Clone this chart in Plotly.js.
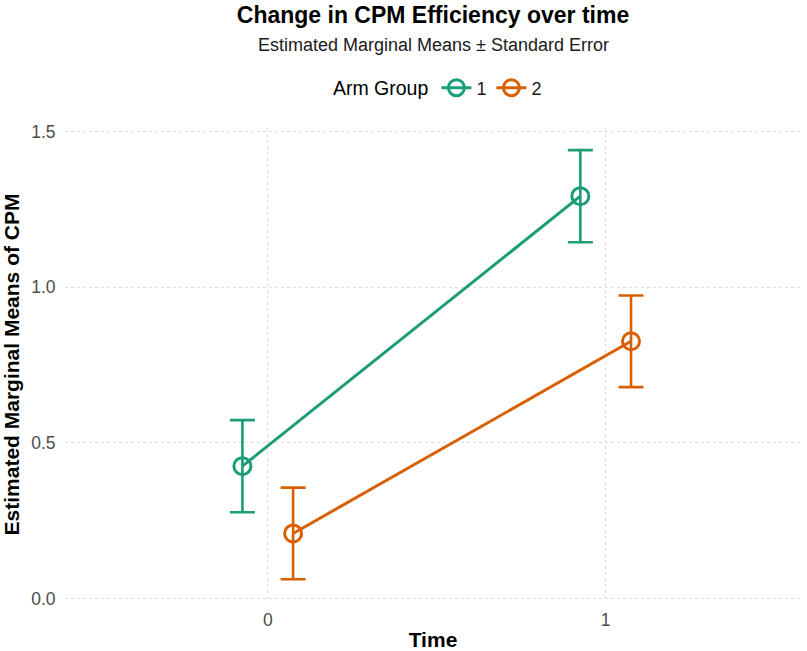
<!DOCTYPE html>
<html>
<head>
<meta charset="utf-8">
<script src="https://cdn.plot.ly/plotly-3.0.1.min.js"></script>
<style>html,body{margin:0;padding:0;background:#fff}#chart{width:807px;height:651px}</style>
</head>
<body>
<div id="chart"></div>
<script>
// Data
const times = [0, 1];
const timeLabels = ['0', '1'];
const groupNames = ['1', '2'];
const means1 = [0.425, 1.292];
const se1 = [0.148, 0.148];
const means2 = [0.209, 0.826];
const se2 = [0.147, 0.147];
const yTicks = [0, 0.5, 1, 1.5];

const colors = ['#1B9E77', '#D95F02'];
const dodge = 0.075;
const FONT = '"Liberation Sans", Arial, Helvetica, sans-serif';

function makeTrace(name, means, se, color, offset) {
  return {
    type: 'scatter',
    mode: 'lines+markers',
    name: name,
    x: times.map(t => t + offset),
    y: means,
    line: {color: color, width: 3},
    marker: {symbol: 'circle-open', size: 17, color: color, line: {width: 3, color: color}},
    error_y: {type: 'data', array: se, visible: true, color: color, thickness: 2.6, width: 12.5},
    cliponaxis: false
  };
}

const data = [
  makeTrace(groupNames[0], means1, se1, colors[0], -dodge),
  makeTrace(groupNames[1], means2, se2, colors[1], dodge)
];

const layout = {
  width: 807, height: 651,
  margin: {l: 65, r: 6, t: 128, b: 50},
  paper_bgcolor: '#fff', plot_bgcolor: '#fff',
  font: {family: FONT, color: '#000'},
  title: {
    text: '<b>Change in CPM Efficiency over time</b>',
    font: {size: 23, color: '#000', family: FONT},
    x: 0.5, xref: 'paper', xanchor: 'center',
    y: 1, yref: 'container', yanchor: 'top', pad: {t: 7}
  },
  annotations: [{
    text: 'Estimated Marginal Means ± Standard Error',
    xref: 'paper', yref: 'paper', x: 0.5, xanchor: 'center',
    y: 1 + (128 - 45) / 473, yanchor: 'middle',
    showarrow: false, font: {size: 18, color: '#1a1a1a', family: FONT}
  }],
  showlegend: true,
  legend: {
    orientation: 'h', x: 0.508, xanchor: 'center', y: 1.0846, yanchor: 'middle',
    title: {text: 'Arm Group', side: 'left', font: {size: 19.5, color: '#000'}},
    font: {size: 18, color: '#1a1a1a'},
    itemwidth: 30
  },
  xaxis: {
    range: [-0.6, 1.578],
    tickvals: times, ticktext: timeLabels,
    ticks: 'outside', ticklen: 3, tickcolor: 'rgba(0,0,0,0)',
    tickfont: {size: 17.5, color: '#4D4D4D'},
    showgrid: true, gridcolor: '#DCDCDC', griddash: 'dot', gridwidth: 1,
    zeroline: false, showline: false,
    title: {text: '<b>Time</b>', font: {size: 21, color: '#000'}, standoff: 4}
  },
  yaxis: {
    range: [-0.008, 1.511],
    tickvals: yTicks, tickformat: '.1f',
    ticks: 'outside', ticklen: 5, tickcolor: 'rgba(0,0,0,0)',
    tickfont: {size: 17.5, color: '#4D4D4D'},
    showgrid: true, gridcolor: '#DCDCDC', griddash: 'dot', gridwidth: 1,
    zeroline: false, showline: false,
    title: {text: '<b>Estimated Marginal Means of CPM</b>', font: {size: 21, color: '#000'}, standoff: 8}
  }
};

Plotly.newPlot('chart', data, layout, {displayModeBar: false, staticPlot: true});
</script>
</body>
</html>
